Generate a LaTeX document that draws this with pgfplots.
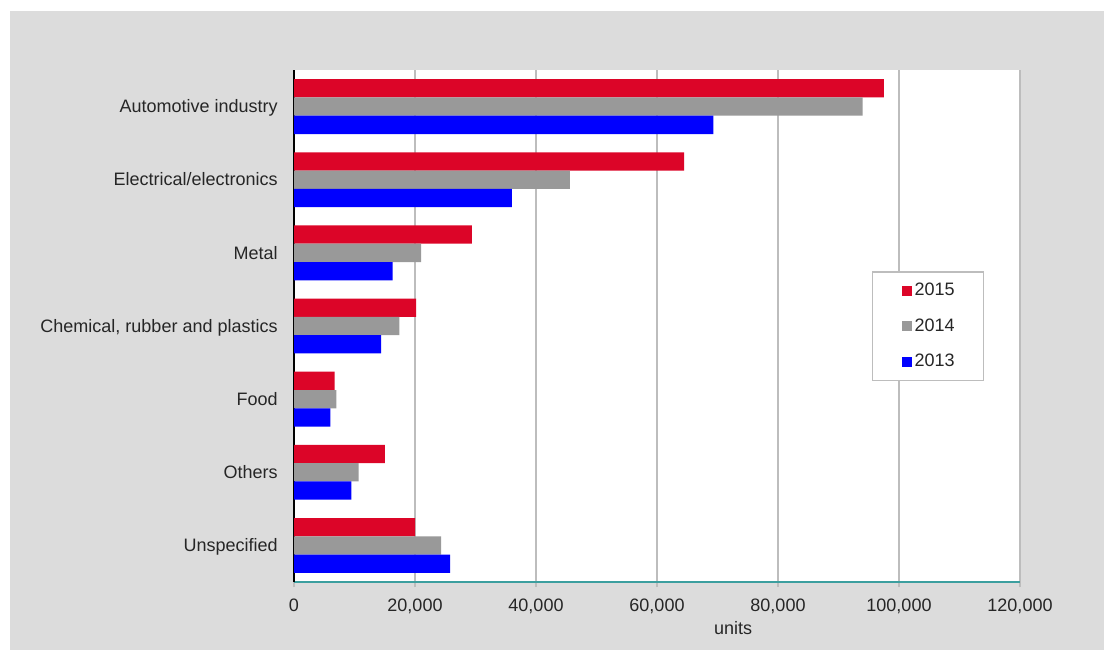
\documentclass[border=0pt]{standalone}
\usepackage{fontspec}
\setmainfont{Liberation Sans}
\usepackage{pgfplots}
\pgfplotsset{compat=1.18}
\definecolor{cred}{HTML}{DC0528}
\definecolor{cgray}{HTML}{999999}
\definecolor{cblue}{HTML}{0000FF}
\definecolor{bggray}{HTML}{DCDCDC}
\definecolor{cteal}{HTML}{3C9F9F}
\definecolor{gridc}{HTML}{BDBDBD}
\definecolor{txt}{HTML}{262626}
\begin{document}
\begin{tikzpicture}
\fill[white] (0,0) rectangle (552bp,325bp);
\fill[bggray] (5bp,0) rectangle (552bp,319.5bp);
\begin{axis}[
  at={(147bp,34bp)}, anchor=south west,
  scale only axis, width=363bp, height=256bp,
  xbar, bar width=0.25,
  xmin=0, xmax=120000, ymin=-0.5, ymax=6.5,
  scaled x ticks=false,
  axis background/.style={fill=white},
  axis x line*=bottom, axis y line*=left,
  x axis line style={-, draw=cteal, line width=1bp},
  y axis line style={-, draw=black, line width=0.75bp},
  xtick={0,20000,40000,60000,80000,100000,120000},
  xticklabels={0,{20,000},{40,000},{60,000},{80,000},{100,000},{120,000}},
  ytick={0,1,2,3,4,5,6},
  yticklabels={Unspecified,Others,Food,{Chemical, rubber and plastics},Metal,Electrical/electronics,Automotive industry},
  xmajorgrids, grid style={draw=gridc, line width=0.6bp},
  tick align=outside, major tick length=2.5bp,
  xtick style={draw=gridc, line width=0.6bp},
  ytick style={draw=none},
  /pgf/number format/assume math mode=true,
  tick label style={font=\fontsize{9bp}{10.8bp}\selectfont, text=txt, inner sep=0pt},
  xticklabel style={anchor=base, yshift=-12bp},
  yticklabel style={anchor=base east, xshift=-5.5bp, yshift=-3.1bp},
  xlabel={units},
  xlabel style={at={(axis description cs:0.605,-0.1035)}, anchor=base, font=\fontsize{9bp}{10.8bp}\selectfont, text=txt, inner sep=0pt},
  legend style={at={(axis description cs:0.796,0.607)}, anchor=north west,
    draw=gridc, line width=0.75bp, fill=white, font=\fontsize{9bp}{10.8bp}\selectfont, text=txt,
    inner xsep=14.5bp, inner ysep=4bp, row sep=7bp,
    nodes={inner xsep=1.5bp, inner ysep=1.5bp, text width=18.5bp}},
  legend image code/.code={\fill[#1] (0bp,-2.5bp) rectangle (5bp,2.5bp);},
  legend cell align=left,
]
\addplot[fill=cred, draw=none, bar shift=0.25] coordinates {
  (97500,6) (64500,5) (29400,4) (20200,3) (6700,2) (15000,1) (20000,0)};
\addplot[fill=cgray, draw=none, bar shift=0] coordinates {
  (94000,6) (45600,5) (21000,4) (17400,3) (7000,2) (10700,1) (24300,0)};
\addplot[fill=cblue, draw=none, bar shift=-0.25] coordinates {
  (69300,6) (36000,5) (16300,4) (14400,3) (6000,2) (9500,1) (25800,0)};
\legend{2015,2014,2013}
\end{axis}
\pgfresetboundingbox
\useasboundingbox (0,0) rectangle (552bp,325bp);
\end{tikzpicture}
\end{document}
